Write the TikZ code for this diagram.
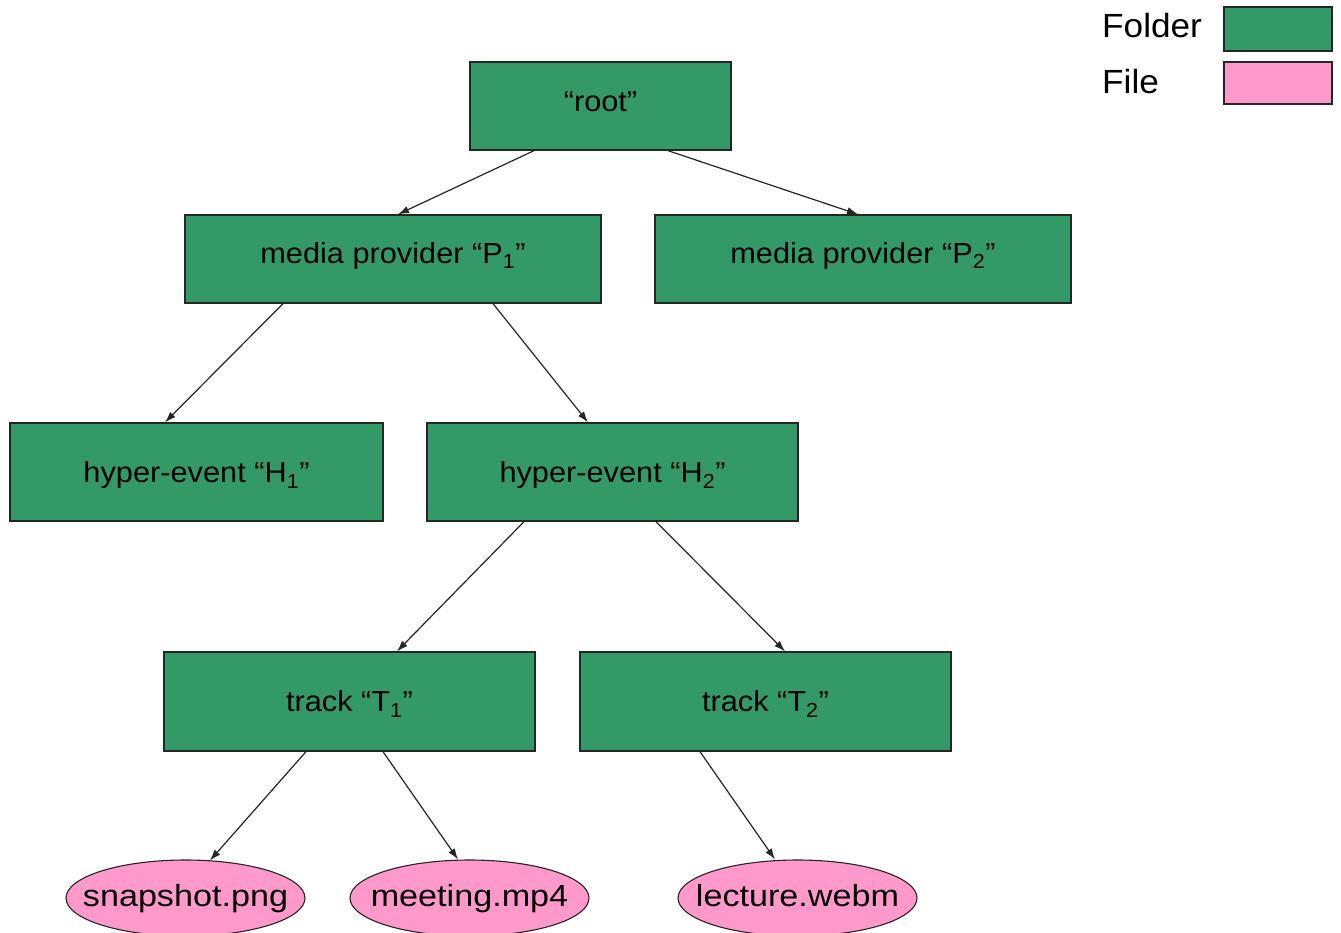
\documentclass[tikz,border=0pt]{standalone}
\usepackage{fontspec}
\setmainfont{Liberation Sans}
\newfontfamily\boxfont[FakeStretch=1.06]{Liberation Sans}
\newfontfamily\ellfont[FakeStretch=1.12]{Liberation Sans}
\newfontfamily\legfont[FakeStretch=1.05]{Liberation Sans}
\usetikzlibrary{arrows.meta,shapes.geometric}
\definecolor{fgreen}{HTML}{339966}
\definecolor{fpink}{HTML}{FF99CC}
\tikzset{
  folder/.style={draw=black!85, fill=fgreen, line width=1.3pt, inner sep=0pt},
  ftext/.style={anchor=base, inner sep=0pt, font=\boxfont\fontsize{29}{34}\selectfont},
  file/.style={ellipse, draw=black!85, fill=fpink, line width=1.1pt, inner sep=0pt, minimum width=239pt, minimum height=76pt},
  etext/.style={anchor=base, inner sep=0pt, font=\ellfont\fontsize{30.5}{36}\selectfont},
  arr/.style={-{Latex[length=11pt,width=7.5pt]}, line width=1.2pt, black!85},
  legtext/.style={anchor=base west, inner sep=0pt, font=\legfont\fontsize{33.5}{40}\selectfont},
  key/.style={draw=black!85, line width=1.3pt, minimum width=108pt, inner sep=0pt}
}
\begin{document}
\begin{tikzpicture}[x=1pt,y=-1pt]
\useasboundingbox[fill=white] (0,0) rectangle (1341,932);
\node[folder, minimum width=261pt, minimum height=88pt] (root) at (600.5,106) {};
\node[folder, minimum width=416pt, minimum height=88pt] (p1) at (393,259) {};
\node[folder, minimum width=416pt, minimum height=88pt] (p2) at (863,259) {};
\node[folder, minimum width=373pt, minimum height=98pt] (h1) at (196.5,472) {};
\node[folder, minimum width=371pt, minimum height=98pt] (h2) at (612.5,472) {};
\node[folder, minimum width=371pt, minimum height=99pt] (t1) at (349.5,701.5) {};
\node[folder, minimum width=371pt, minimum height=99pt] (t2) at (765.5,701.5) {};
\node[ftext] (root-t) at ([yshift=-5.7pt]root.center) {“root”};
\node[ftext] (p1-t) at ([yshift=-4.3pt]p1.center) {media provider “P\textsubscript{1}”};
\node[ftext] (p2-t) at ([yshift=-4.3pt]p2.center) {media provider “P\textsubscript{2}”};
\node[ftext] (h1-t) at ([yshift=-10.7pt]h1.center) {hyper-event “H\textsubscript{1}”};
\node[ftext] (h2-t) at ([yshift=-10.7pt]h2.center) {hyper-event “H\textsubscript{2}”};
\node[ftext] (t1-t) at ([yshift=-10.2pt]t1.center) {track “T\textsubscript{1}”};
\node[ftext] (t2-t) at ([yshift=-10.2pt]t2.center) {track “T\textsubscript{2}”};
\node[file] (snap) at (185.5,898) {};
\node[file] (meet) at (469.5,898) {};
\node[file] (lect) at (797.5,898) {};
\node[etext] (snap-t) at ([yshift=-8.7pt]snap.center) {snapshot.png};
\node[etext] (meet-t) at ([yshift=-8.7pt]meet.center) {meeting.mp4};
\node[etext] (lect-t) at ([yshift=-8.7pt]lect.center) {lecture.webm};
\draw[arr] ([xshift=-66.5pt]root.south) -- ([xshift=5pt]p1.north);
\draw[arr] ([xshift=67.5pt]root.south) -- ([xshift=-5pt]p2.north);
\draw[arr] ([xshift=-110pt]p1.south) -- ([xshift=-31.5pt]h1.north);
\draw[arr] ([xshift=100pt]p1.south) -- ([xshift=-24.5pt]h2.north);
\draw[arr] ([xshift=-88.5pt]h2.south) -- ([xshift=47.5pt]t1.north);
\draw[arr] ([xshift=43.5pt]h2.south) -- ([xshift=19.5pt]t2.north);
\draw[arr] ([xshift=-43.5pt]t1.south) -- ([xshift=24.5pt,yshift=-1pt]snap.north);
\draw[arr] ([xshift=33.5pt]t1.south) -- ([xshift=-11.5pt]meet.north);
\draw[arr] ([xshift=-65.5pt]t2.south) -- ([xshift=-22.5pt]lect.north);
\node[legtext] (lf) at (1102,37) {Folder};
\node[legtext] (lfi) at (1102,93) {File};
\node[key, fill=fgreen, minimum height=44pt] (kf) at (1278,29) {};
\node[key, fill=fpink, minimum height=42pt] (kfi) at (1278,83) {};
\end{tikzpicture}
\end{document}
